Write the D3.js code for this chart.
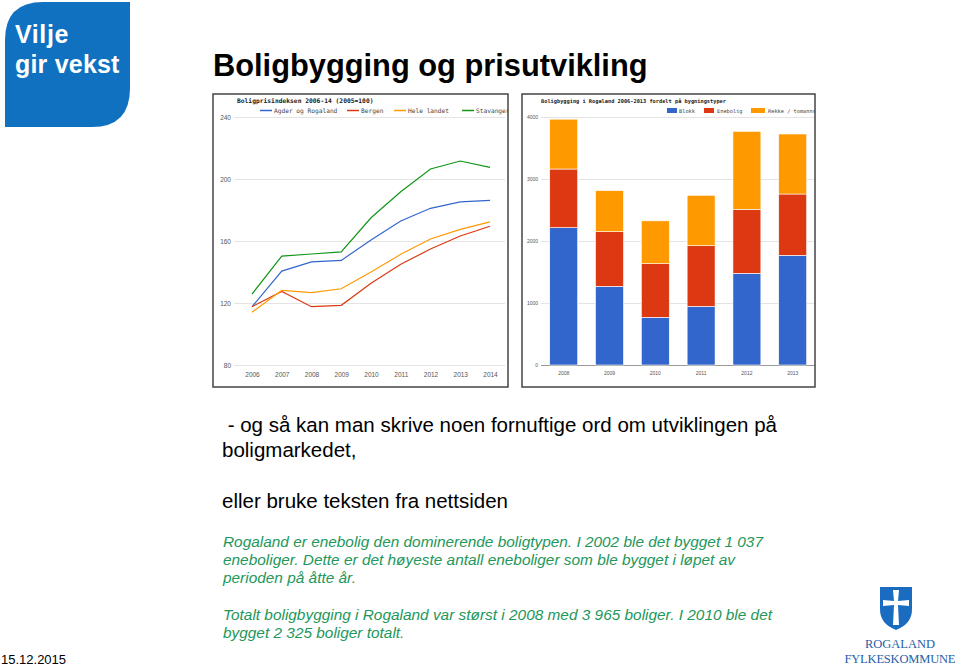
<!DOCTYPE html>
<html>
<head>
<meta charset="utf-8">
<script src="https://cdn.jsdelivr.net/npm/d3@7"></script>
<style>
  body { margin: 0; background: #fff; }
  svg { display: block; }
</style>
</head>
<body>
<div id="slide"></div>
<script>
// Boligprisindeksen 2006-14 (2005=100)
const years = [2006, 2007, 2008, 2009, 2010, 2011, 2012, 2013, 2014];
const agder = [117.6, 140.6, 146.5, 147.5, 160.6, 172.9, 181.1, 185.2, 186.2];
const bergen = [117.6, 127.5, 117.6, 118.5, 132.7, 145.0, 154.8, 163.2, 169.5];
const heleLandet = [114.0, 128.2, 126.7, 129.2, 140.0, 151.4, 161.3, 167.5, 172.3];
const stavanger = [125.8, 150.3, 151.6, 153.0, 175.0, 191.8, 206.5, 211.6, 207.5];
const priceTicks = [80, 120, 160, 200, 240];

// Boligbygging i Rogaland fordelt på bygningstyper
const buildYears = [2008, 2009, 2010, 2011, 2012, 2013];
const blokk = [2215, 1269, 769, 946, 1479, 1769];
const enebolig = [946, 881, 865, 978, 1032, 989];
const rekke = [804, 662, 691, 813, 1258, 968];
const buildTicks = [0, 1000, 2000, 3000, 4000];

const width = 959, height = 668;

const svg = d3.select('#slide')
  .append('svg')
  .attr('width', width)
  .attr('height', height);

const defs = svg.append('defs');

// ---- logo top left ----
svg.append('path')
  .attr('d', 'M5,127 L5,40 Q5,2 43,2 L130,2 L130,88 Q130,127 92,127 Z')
  .attr('fill', '#1071c0');
svg.append('text')
  .attr('x', 15).attr('y', 43)
  .attr('fill', '#fff')
  .style('font', 'bold 25px "Liberation Sans", Arial, sans-serif')
  .style('letter-spacing', '0.6px')
  .text('Vilje');
svg.append('text')
  .attr('x', 15).attr('y', 73)
  .attr('fill', '#fff')
  .style('font', 'bold 25px "Liberation Sans", Arial, sans-serif')
  .style('letter-spacing', '0.2px')
  .text('gir vekst');

// ---- heading ----
svg.append('text')
  .attr('x', 213).attr('y', 76)
  .attr('fill', '#000')
  .style('font', 'bold 30.8px "Liberation Sans", Arial, sans-serif')
  .text('Boligbygging og prisutvikling');

// ---- left chart: price index ----
const left = { x: 213, y: 94, w: 295, h: 293 };

defs.append('clipPath').attr('id', 'clipL')
  .append('rect').attr('x', left.x).attr('y', left.y).attr('width', left.w).attr('height', left.h);

const gL = svg.append('g').attr('clip-path', 'url(#clipL)');

const xL = d3.scalePoint().domain(years).range([252, 490]);
const yL = d3.scaleLinear().domain([80, 240]).range([365, 117]);

const axisFont = '6.5px "Liberation Sans", Arial, sans-serif';

// gridlines + labels
const yAxisL = gL.append('g')
  .attr('transform', 'translate(234,0)')
  .call(d3.axisLeft(yL).tickValues(priceTicks).tickSize(-271).tickPadding(3));
yAxisL.select('.domain').remove();
yAxisL.selectAll('line').attr('stroke', '#e4e4e4');
yAxisL.selectAll('text').attr('fill', '#555').style('font', axisFont);

const xAxisL = gL.append('g')
  .attr('transform', 'translate(0,365)')
  .call(d3.axisBottom(xL).tickSize(0).tickPadding(7));
xAxisL.select('.domain').remove();
xAxisL.selectAll('text').attr('fill', '#555').style('font', axisFont);

const priceSeries = [
  { name: 'Agder og Rogaland', values: agder, color: '#3366cc', lx: 260 },
  { name: 'Bergen', values: bergen, color: '#dc3912', lx: 347 },
  { name: 'Hele landet', values: heleLandet, color: '#ff9900', lx: 394 },
  { name: 'Stavanger', values: stavanger, color: '#109618', lx: 462 }
];

const line = d3.line()
  .x((d, i) => xL(years[i]))
  .y(d => yL(d));

gL.selectAll('.series')
  .data(priceSeries)
  .enter().append('path')
  .attr('class', 'series')
  .attr('d', d => line(d.values))
  .attr('fill', 'none')
  .attr('stroke', d => d.color)
  .attr('stroke-width', 1.2);

gL.append('text')
  .attr('x', 237).attr('y', 103)
  .attr('fill', '#222')
  .style('font', 'bold 6.3px "DejaVu Sans Mono", monospace')
  .text('Boligprisindeksen 2006-14 (2005=100)');

const legL = gL.selectAll('.legL')
  .data(priceSeries)
  .enter().append('g')
  .attr('class', 'legL');
legL.append('line')
  .attr('x1', d => d.lx).attr('x2', d => d.lx + 12)
  .attr('y1', 110.5).attr('y2', 110.5)
  .attr('stroke', d => d.color).attr('stroke-width', 1.5);
legL.append('text')
  .attr('x', d => d.lx + 14).attr('y', 112.5)
  .attr('fill', '#444')
  .style('font', '6.2px "DejaVu Sans Mono", monospace')
  .text(d => d.name);

svg.append('rect')
  .attr('x', left.x).attr('y', left.y).attr('width', left.w).attr('height', left.h)
  .attr('fill', 'none').attr('stroke', '#444').attr('stroke-width', 1.5);

// ---- right chart: housing construction ----
const right = { x: 522, y: 94, w: 293, h: 293 };

defs.append('clipPath').attr('id', 'clipR')
  .append('rect').attr('x', right.x).attr('y', right.y).attr('width', right.w).attr('height', right.h);

const gR = svg.append('g').attr('clip-path', 'url(#clipR)');

const xR = d3.scaleBand().domain(buildYears)
  .range([540.8, 815.6]).paddingInner(0.39).paddingOuter(0.195);
const yR = d3.scaleLinear().domain([0, 4000]).range([365, 117]);

const axisFontR = '5px "Liberation Sans", Arial, sans-serif';

const yAxisR = gR.append('g')
  .attr('transform', 'translate(541,0)')
  .call(d3.axisLeft(yR).tickValues(buildTicks).tickFormat(d3.format('d'))
    .tickSize(-274).tickPadding(3));
yAxisR.select('.domain').remove();
yAxisR.selectAll('line').attr('stroke', d => d === 0 ? '#999' : '#e4e4e4');
yAxisR.selectAll('text').attr('fill', '#555').style('font', axisFontR);

const xAxisR = gR.append('g')
  .attr('transform', 'translate(0,365)')
  .call(d3.axisBottom(xR).tickSize(0).tickPadding(6));
xAxisR.select('.domain').remove();
xAxisR.selectAll('text').attr('fill', '#555').style('font', axisFontR);

const buildTypes = [
  { key: 'blokk', name: 'Blokk', values: blokk, color: '#3366cc', lx: 667, tx: 679 },
  { key: 'enebolig', name: 'Enebolig', values: enebolig, color: '#dc3912', lx: 704, tx: 717 },
  { key: 'rekke', name: 'Rekke / tomannsb.', values: rekke, color: '#ff9900', lx: 751, tx: 768 }
];

const table = buildYears.map((yr, i) => {
  const row = { year: yr };
  buildTypes.forEach(t => { row[t.key] = t.values[i]; });
  return row;
});

const stacked = d3.stack().keys(buildTypes.map(t => t.key))(table);

gR.selectAll('.layer')
  .data(stacked)
  .enter().append('g')
  .attr('class', 'layer')
  .attr('fill', (d, i) => buildTypes[i].color)
  .selectAll('rect')
  .data(d => d)
  .enter().append('rect')
  .attr('x', d => xR(d.data.year))
  .attr('y', d => yR(d[1]))
  .attr('width', xR.bandwidth())
  .attr('height', d => yR(d[0]) - yR(d[1]))
  .attr('stroke', '#fff')
  .attr('stroke-width', 0.6);

gR.append('text')
  .attr('x', 541).attr('y', 103)
  .attr('fill', '#222')
  .style('font', 'bold 5.3px "DejaVu Sans Mono", monospace')
  .text('Boligbygging i Rogaland 2006-2013 fordelt på bygningstyper');

const legR = gR.selectAll('.legR')
  .data(buildTypes)
  .enter().append('g')
  .attr('class', 'legR');
legR.append('rect')
  .attr('x', d => d.lx).attr('y', 108)
  .attr('width', (d, i) => i === 2 ? 14 : 10).attr('height', 5)
  .attr('fill', d => d.color);
legR.append('text')
  .attr('x', d => d.tx).attr('y', 112.5)
  .attr('fill', '#444')
  .style('font', '5.3px "DejaVu Sans Mono", monospace')
  .text(d => d.name);

svg.append('rect')
  .attr('x', right.x).attr('y', right.y).attr('width', right.w).attr('height', right.h)
  .attr('fill', 'none').attr('stroke', '#444').attr('stroke-width', 1.5);

// ---- body text ----
const bodyFont = '20.5px "Liberation Sans", Arial, sans-serif';
const plainLines = [
  { t: ' - og så kan man skrive noen fornuftige ord om utviklingen på', y: 432 },
  { t: 'boligmarkedet,', y: 457 },
  { t: 'eller bruke teksten fra nettsiden', y: 508 }
];
svg.selectAll('.plain')
  .data(plainLines)
  .enter().append('text')
  .attr('class', 'plain')
  .attr('x', 222).attr('y', d => d.y)
  .attr('fill', '#000')
  .attr('xml:space', 'preserve')
  .style('white-space', 'pre')
  .style('font', bodyFont)
  .text(d => d.t);

const greenLines = [
  { t: 'Rogaland er enebolig den dominerende boligtypen. I 2002 ble det bygget 1 037', y: 547 },
  { t: 'eneboliger. Dette er det høyeste antall eneboliger som ble bygget i løpet av', y: 565 },
  { t: 'perioden på åtte år.', y: 583 },
  { t: 'Totalt boligbygging i Rogaland var størst i 2008 med 3 965 boliger. I 2010 ble det', y: 620 },
  { t: 'bygget 2 325 boliger totalt.', y: 638 }
];
svg.selectAll('.green')
  .data(greenLines)
  .enter().append('text')
  .attr('class', 'green')
  .attr('x', 223).attr('y', d => d.y)
  .attr('fill', '#23975a')
  .style('font', 'italic 15.4px "Liberation Sans", Arial, sans-serif')
  .text(d => d.t);

// ---- date ----
svg.append('text')
  .attr('x', 1).attr('y', 664)
  .attr('fill', '#000')
  .style('font', '13px "Liberation Sans", Arial, sans-serif')
  .text('15.12.2015');

// ---- logo bottom right ----
svg.append('path')
  .attr('d', 'M880,587 L912,587 L912,609 Q912,624 896,630 Q880,624 880,609 Z')
  .attr('fill', '#1a6cc0');
svg.append('path')
  .attr('d', 'M893,590 L899,590 L898,601 L909,600 L909,606 L898,605 L899,625 L893,625 L894,605 L883,606 L883,600 L894,601 Z')
  .attr('fill', '#fff');
svg.append('text')
  .attr('x', 900).attr('y', 648)
  .attr('text-anchor', 'middle')
  .attr('fill', '#1f5fa8')
  .style('font', '12.5px "Liberation Serif", "Times New Roman", serif')
  .text('ROGALAND');
svg.append('text')
  .attr('x', 900).attr('y', 663)
  .attr('text-anchor', 'middle')
  .attr('fill', '#1f5fa8')
  .attr('textLength', 111)
  .style('font', '12.5px "Liberation Serif", "Times New Roman", serif')
  .text('FYLKESKOMMUNE');
</script>
</body>
</html>
